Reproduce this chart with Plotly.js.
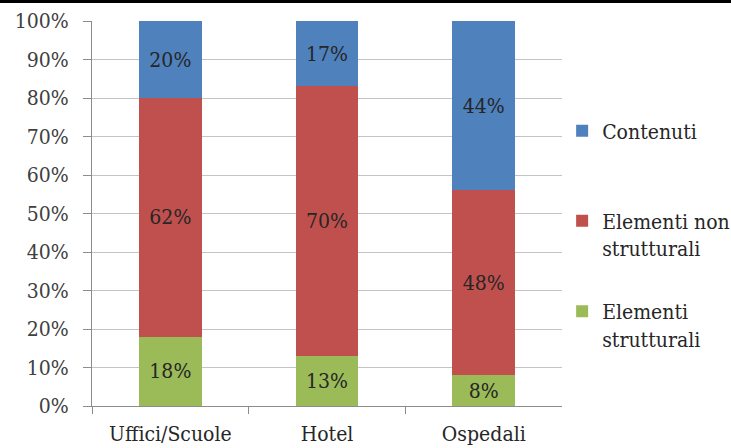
<!DOCTYPE html>
<html>
<head>
<meta charset="utf-8">
<script src="https://cdn.plot.ly/plotly-3.0.1.min.js"></script>
<style>html,body{margin:0;padding:0;background:#fff;}#chart{width:731px;height:448px;}</style>
</head>
<body>
<div id="chart"></div>
<script>
var categories = ["Uffici/Scuole", "Hotel", "Ospedali"];
var seriesNames = ["Elementi<br>strutturali", "Elementi non<br>strutturali", "Contenuti"];
var strutturali = [18, 13, 8];
var nonStrutturali = [62, 70, 48];
var contenuti = [20, 17, 44];
var yTickVals = [0, 10, 20, 30, 40, 50, 60, 70, 80, 90, 100];
var yTickText = ["0%", "10%", "20%", "30%", "40%", "50%", "60%", "70%", "80%", "90%", "100%"];

var colors = ["#9BBB59", "#C0504D", "#4F81BD"];
var values = [strutturali, nonStrutturali, contenuti];
var legendIds = ["legend3", "legend2", "legend"];
var font = "DejaVu Serif Condensed";
var fs = 21;

var traces = values.map(function (v, i) {
  return {
    type: "bar",
    x: categories,
    y: v,
    name: seriesNames[i],
    legend: legendIds[i],
    marker: {color: colors[i], line: {width: 0}},
    text: v.map(function (d) { return d + "%"; }),
    textposition: "inside",
    insidetextanchor: "middle",
    textangle: 0,
    insidetextfont: {family: font, size: fs, color: "#262626"},
    hoverinfo: "skip"
  };
});

function legendBox(yCenter) {
  return {
    xref: "container",
    x: 0.769,
    xanchor: "left",
    y: yCenter,
    yanchor: "middle",
    valign: "top",
    font: {family: font, size: fs, color: "#262626"},
    itemwidth: 30,
    bgcolor: "rgba(0,0,0,0)",
    borderwidth: 0
  };
}

var layout = {
  width: 731,
  height: 448,
  margin: {l: 92, r: 163, t: 21, b: 42},
  paper_bgcolor: "#ffffff",
  plot_bgcolor: "#ffffff",
  barmode: "stack",
  bargap: 0.6,
  font: {family: font, size: fs, color: "#333333"},
  showlegend: true,
  legend: legendBox(0.714),
  legend2: legendBox(0.445),
  legend3: legendBox(0.21),
  xaxis: {
    type: "category",
    showgrid: false,
    showline: true,
    linecolor: "#8c8c8c",
    linewidth: 1,
    ticks: "outside",
    tickson: "boundaries",
    ticklen: 7,
    tickcolor: "#8c8c8c",
    tickangle: 0,
    ticklabelstandoff: 9,
    tickfont: {family: font, size: fs, color: "#262626"},
    fixedrange: true
  },
  yaxis: {
    range: [0, 100],
    tickvals: yTickVals,
    ticktext: yTickText,
    showgrid: true,
    gridcolor: "#c4c4c4",
    gridwidth: 1,
    showline: true,
    linecolor: "#8c8c8c",
    linewidth: 1,
    ticks: "outside",
    ticklen: 8,
    tickcolor: "#8c8c8c",
    ticklabelstandoff: 10,
    tickfont: {family: font, size: fs, color: "#404040"},
    zeroline: false,
    fixedrange: true
  },
  shapes: [{
    type: "rect",
    xref: "paper", yref: "paper",
    x0: -0.3, x1: 1.6,
    y0: 1.0468, y1: 1.06,
    fillcolor: "#000000",
    line: {width: 0},
    layer: "above"
  }]
};

Plotly.newPlot("chart", traces, layout, {displayModeBar: false, staticPlot: true});
</script>
</body>
</html>
